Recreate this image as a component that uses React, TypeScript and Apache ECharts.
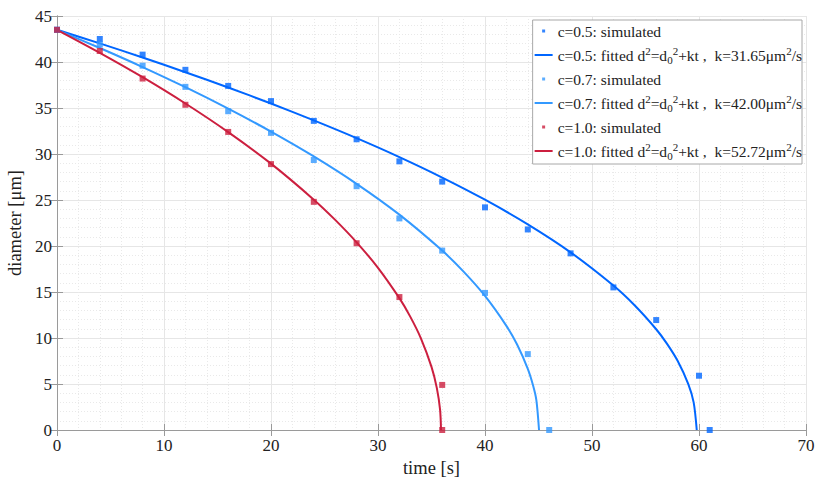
import React, { useEffect, useRef } from "react";
import * as echarts from "echarts";

// ---- data ----
const simT05 = [0, 4, 8, 12, 16, 20, 24, 28, 32, 36, 40, 44, 48, 52, 56, 60, 61];
const simD05 = [43.5, 42.5, 40.8, 39.15, 37.4, 35.75, 33.6, 31.6, 29.2, 27.0, 24.2, 21.8, 19.2, 15.5, 11.95, 5.9, 0];

const simT07 = [0, 4, 8, 12, 16, 20, 24, 28, 32, 36, 40, 44, 46];
const simD07 = [43.5, 41.9, 39.6, 37.3, 34.65, 32.3, 29.35, 26.5, 23.0, 19.5, 14.9, 8.25, 0];

const simT10 = [0, 4, 8, 12, 16, 20, 24, 28, 32, 36, 36];
const simD10 = [43.5, 41.2, 38.2, 35.35, 32.4, 28.9, 24.8, 20.3, 14.45, 4.9, 0];

// fitted curves d^2 = d0^2 - k t (values as drawn)
const fitT05 = [0, 4, 8, 12, 16, 20, 24, 28, 32, 36, 40, 44, 48, 52, 54, 56, 57, 58, 59, 59.5, 59.79];
const fitD05 = [43.5, 42.02, 40.49, 38.89, 37.23, 35.49, 33.65, 31.72, 29.66, 27.44, 25.03, 22.35, 19.31, 15.7, 13.53, 10.95, 9.39, 7.52, 4.99, 3.01, 0];

const fitT07 = [0, 4, 8, 12, 16, 20, 24, 28, 32, 36, 38, 40, 42, 43, 44, 44.5, 44.8, 45.05];
const fitD07 = [43.5, 41.52, 39.45, 37.26, 34.93, 32.44, 29.74, 26.76, 23.41, 19.5, 17.21, 14.57, 11.32, 9.29, 6.65, 4.82, 3.26, 0];

const fitT10 = [0, 4, 8, 12, 16, 20, 24, 26, 28, 30, 32, 33, 34, 35, 35.5, 35.8, 35.89];
const fitD10 = [43.5, 41.0, 38.35, 35.49, 32.38, 28.95, 25.04, 22.84, 20.4, 17.63, 14.33, 12.35, 9.99, 6.86, 4.55, 2.21, 0];

const kValues = ["31.65", "42.00", "52.72"];
const cLabels = ["c=0.5", "c=0.7", "c=1.0"];
const colors = ["#0066FF", "#3399FF", "#CC1F3F"];

const xTicksMax = 70;
const yTicksMax = 45;

const FONT = "Liberation Serif";

function pairs(t: number[], d: number[]) {
  return t.map((v, i) => [v, d[i]]);
}

export default function App() {
  const ref = useRef<HTMLDivElement>(null);

  useEffect(() => {
    if (!ref.current) return;
    const chart = echarts.init(ref.current, null, { renderer: "svg" });

    const sims = [pairs(simT05, simD05), pairs(simT07, simD07), pairs(simT10, simD10)];
    const fits = [pairs(fitT05, fitD05), pairs(fitT07, fitD07), pairs(fitT10, fitD10)];

    const simNames = cLabels.map((c) => `${c}: simulated`);
    const fitNames = cLabels.map((c, i) => `${c}: fitted d²=d₀²+kt ,  k=${kValues[i]}μm²/s`);
    const richMap: Record<string, string> = {};
    simNames.forEach((n) => (richMap[n] = `{n|${n}}`));
    cLabels.forEach((c, i) => {
      richMap[fitNames[i]] =
        `{n|${c}: fitted d}{sup|2}{n|=d}{sub|0}{sup|2}{n|+kt ,  k=${kValues[i]}μm}{sup|2}{n|/s}`;
    });

    const legendData: any[] = [];
    const series: any[] = [];
    cLabels.forEach((c, i) => {
      legendData.push({
        name: simNames[i],
        icon: "path://M0,0M18,0M0,10M18,10M7.5,3.5h3v3h-3z",
        itemStyle: { color: colors[i], borderWidth: 0 },
      });
      legendData.push({
        name: fitNames[i],
        icon: "path://M0,0M18,0M0,10M18,10M0,4h18v2h-18z",
        itemStyle: { color: colors[i], borderWidth: 0 },
      });
    });
    cLabels.forEach((c, i) => {
      series.push({
        name: fitNames[i],
        type: "line",
        data: fits[i],
        symbol: "none",
        smooth: 0.3,
        lineStyle: { color: colors[i], width: 2 },
        itemStyle: { color: colors[i] },
        z: 2,
      });
    });
    cLabels.forEach((c, i) => {
      series.push({
        name: simNames[i],
        type: "scatter",
        data: sims[i],
        symbol: "rect",
        symbolSize: 6,
        itemStyle: { color: colors[i] },
        z: 3,
      });
    });

    const axisLine = { show: true, lineStyle: { color: "#9a9a9a", width: 1 } };
    const axisTick = { show: true, inside: true, length: 6, lineStyle: { color: "#9a9a9a" } };
    const splitLine = { show: true, lineStyle: { color: "#e6e6e6", width: 1 } };
    const minorSplitLine = { show: true, lineStyle: { color: "#e9e9e9", width: 1, type: [1, 2] } };

    chart.setOption({
      animation: false,
      backgroundColor: "#ffffff",
      grid: { left: 57, right: 11, top: 16, bottom: 47, containLabel: false, outerBoundsMode: "none" },
      legend: {
        orient: "vertical",
        right: 15,
        top: 20,
        data: legendData,
        itemWidth: 18,
        itemHeight: 10,
        itemGap: 6,
        padding: [3, 0, 3, 2],
        backgroundColor: "#ffffff",
        borderColor: "#a8a8a8",
        borderWidth: 1,
        borderRadius: 0,
        formatter: (name: string) => richMap[name] || name,
        textStyle: {
          fontFamily: FONT,
          fontSize: 15.5,
          color: "#222",
          rich: {
            n: { fontFamily: FONT, fontSize: 15.5, color: "#222", lineHeight: 20, verticalAlign: "middle" },
            sup: { fontFamily: FONT, fontSize: 11, color: "#222", lineHeight: 10, verticalAlign: "top" },
            sub: { fontFamily: FONT, fontSize: 11, color: "#222", lineHeight: 10, verticalAlign: "bottom" },
          },
        },
      },
      xAxis: [
        {
          type: "value",
          min: 0,
          max: xTicksMax,
          interval: 10,
          name: "time [s]",
          nameLocation: "middle",
          nameGap: 26,
          nameTextStyle: { fontFamily: FONT, fontSize: 18.5, color: "#222" },
          axisLine,
          axisTick,
          axisLabel: { fontFamily: FONT, fontSize: 17, color: "#222", margin: 7 },
          splitLine,
          minorTick: { show: false, splitNumber: 5 },
          minorSplitLine,
        },
        {
          type: "value",
          position: "top",
          min: 0,
          max: xTicksMax,
          interval: 10,
          axisLine,
          axisTick,
          axisLabel: { show: false },
          splitLine: { show: false },
        },
      ],
      yAxis: [
        {
          type: "value",
          min: 0,
          max: yTicksMax,
          interval: 5,
          name: "diameter [μm]",
          nameLocation: "middle",
          nameGap: 28,
          nameTextStyle: { fontFamily: FONT, fontSize: 18.5, color: "#222" },
          axisLine,
          axisTick,
          axisLabel: { fontFamily: FONT, fontSize: 17, color: "#222", margin: 5 },
          splitLine,
          minorTick: { show: false, splitNumber: 5 },
          minorSplitLine,
        },
        {
          type: "value",
          position: "right",
          min: 0,
          max: yTicksMax,
          interval: 5,
          axisLine,
          axisTick,
          axisLabel: { show: false },
          splitLine: { show: false },
        },
      ],
      series,
    });

    return () => chart.dispose();
  }, []);

  return (
    <div
      ref={ref}
      style={{ position: "absolute", left: 0, top: 0, width: 817, height: 477, background: "#fff" }}
    />
  );
}
